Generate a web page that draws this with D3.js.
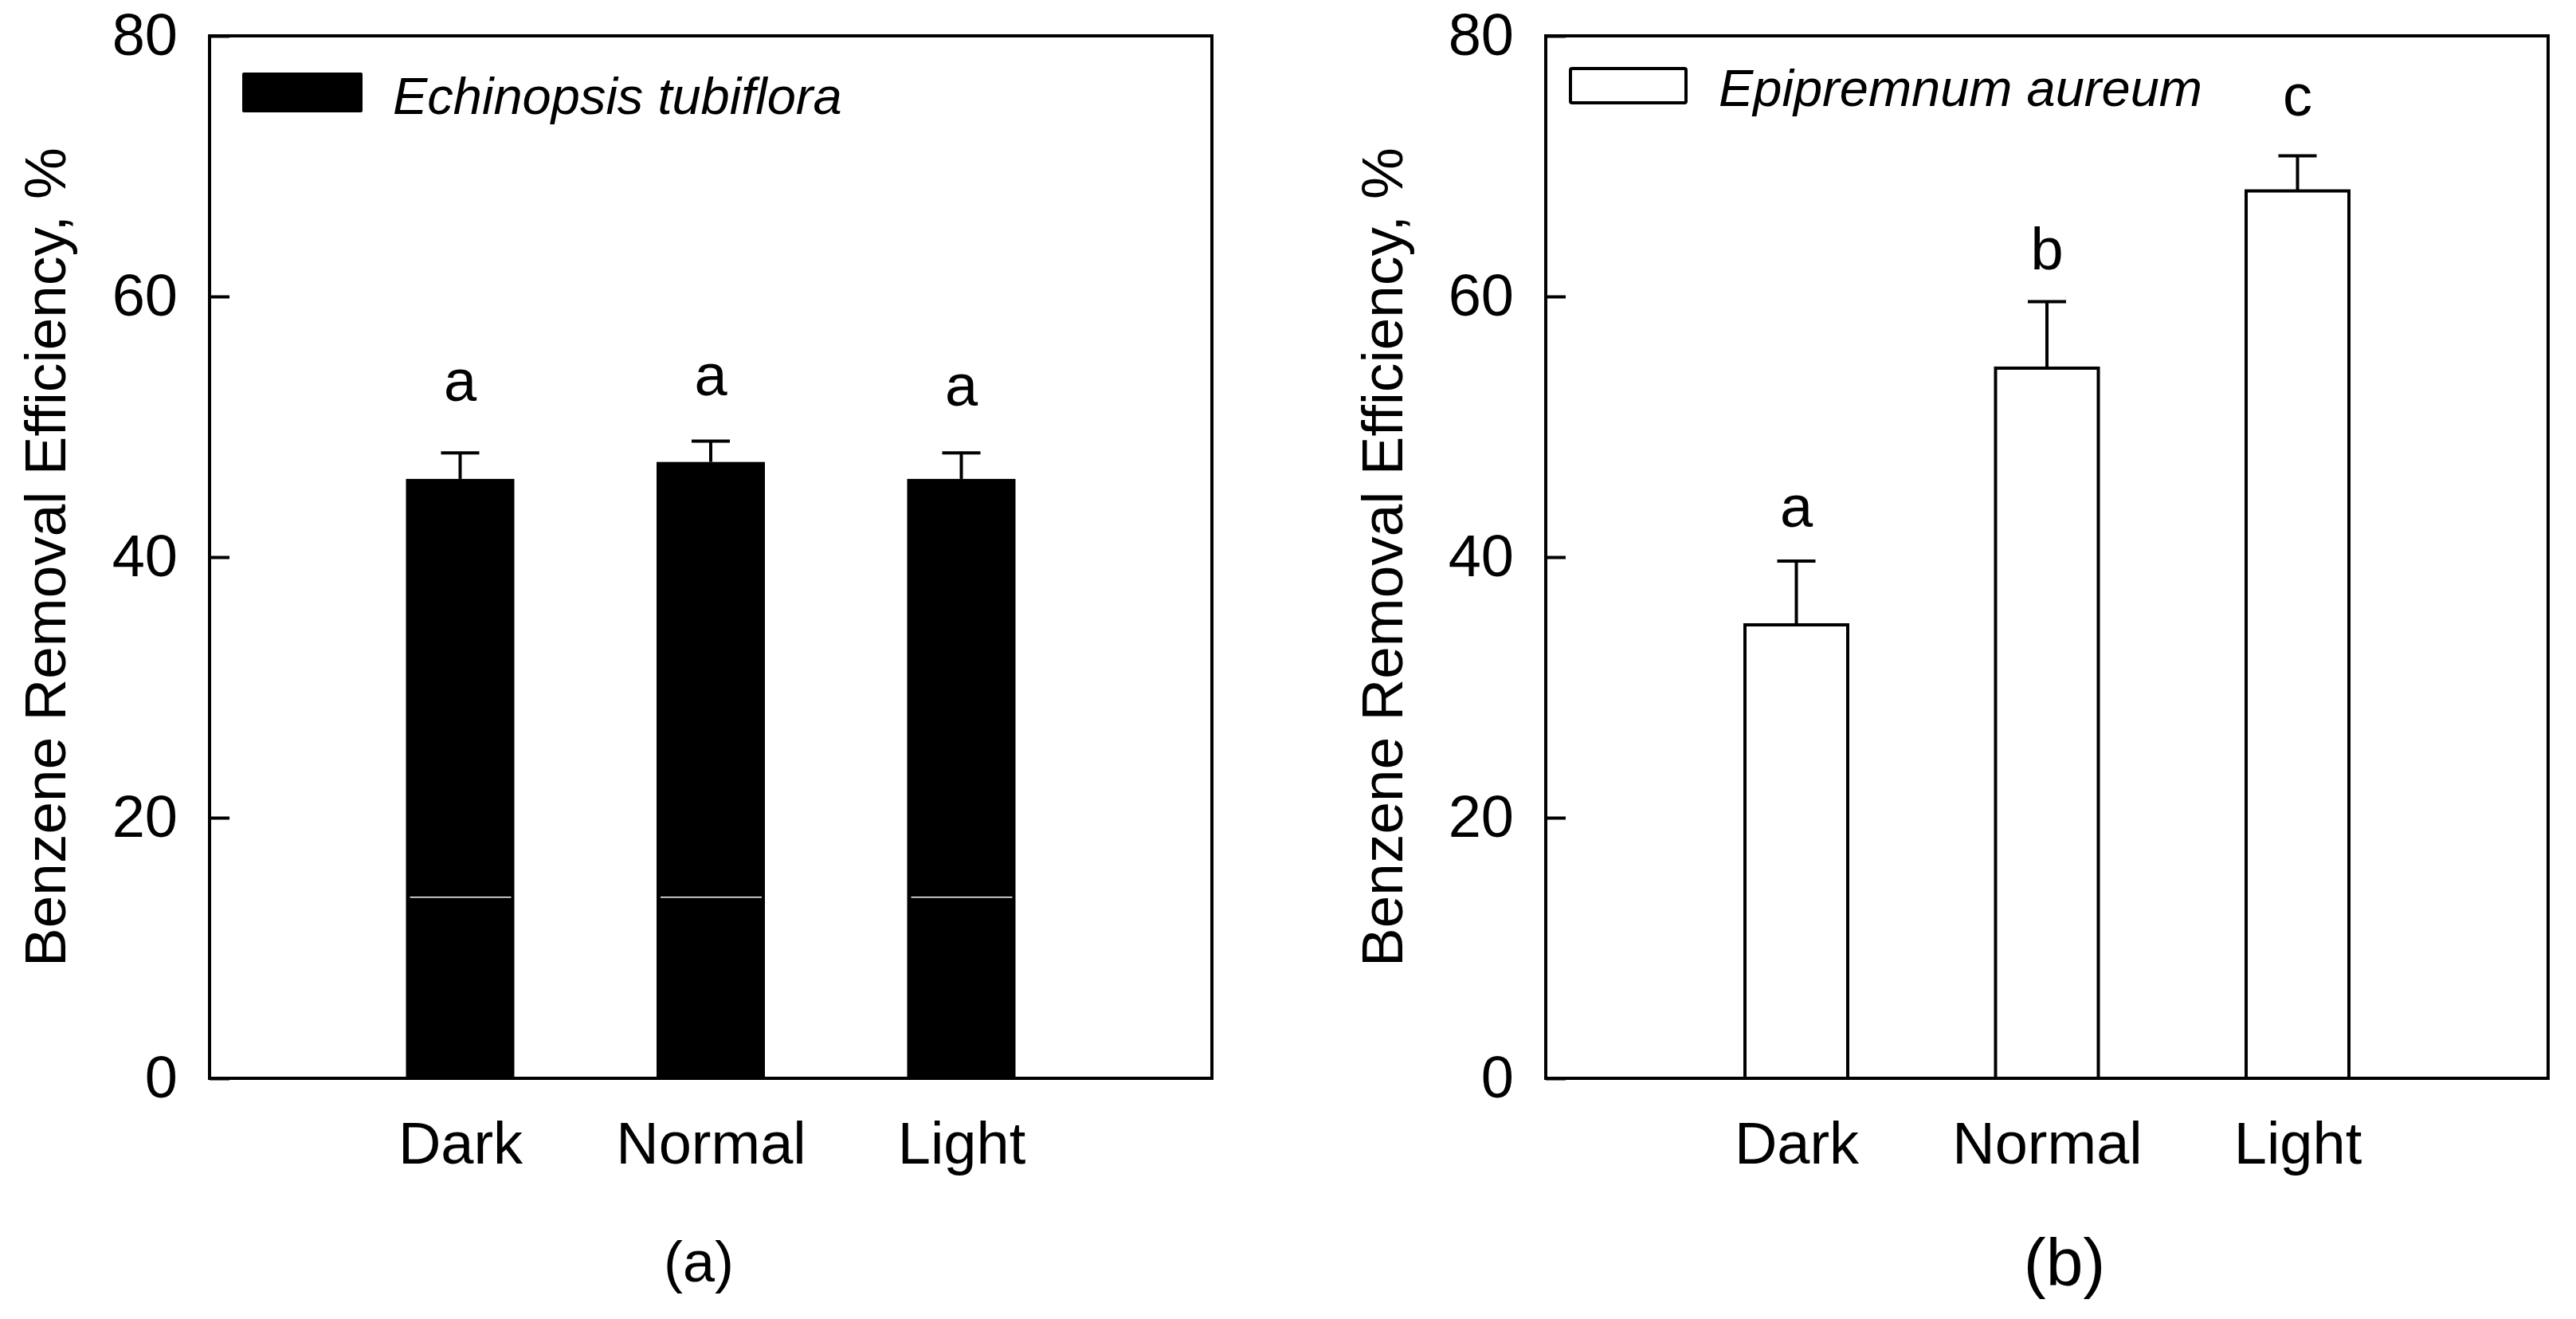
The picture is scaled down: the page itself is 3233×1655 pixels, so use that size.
<!DOCTYPE html>
<html>
<head>
<meta charset="utf-8">
<script src="https://cdn.jsdelivr.net/npm/d3@7"></script>
<style>
  body { margin: 0; background: #fff; }
  text { font-family: "Liberation Sans", Arial, sans-serif; fill: #000; }
</style>
</head>
<body>
<svg id="fig" width="3233" height="1655"></svg>
<script>
// data
const categories = ["Dark", "Normal", "Light"];
const yTicks = [0, 20, 40, 60, 80];

const echinopsisMean = [46.0, 47.3, 46.0];
const echinopsisErr = [2.0, 1.6, 2.0];
const echinopsisLetters = ["a", "a", "a"];
const echinopsisLetterY = [52.0, 52.4, 51.6];

const epipremnumMean = [34.8, 54.5, 68.1];
const epipremnumErr = [4.9, 5.1, 2.7];
const epipremnumLetters = ["a", "b", "c"];
const epipremnumLetterY = [42.3, 62.1, 73.9];

const svg = d3.select("#fig");
const W = 1258, H = 1308;

function drawPanel(opt) {
  const g = svg.append("g").attr("transform", `translate(${opt.left},45)`);

  const x = d3.scalePoint().domain(categories).range([0, W]).padding(1);
  const y = d3.scaleLinear().domain([0, 80]).range([H, 0]);

  const rows = categories.map((c, i) => ({
    cat: c, mean: opt.mean[i], err: opt.err[i], letter: opt.letters[i], ly: opt.letterY[i]
  }));

  // bars
  g.selectAll("rect.bar")
    .data(rows)
    .enter()
    .append("rect")
    .attr("class", "bar")
    .attr("x", d => x(d.cat) - opt.barW / 2)
    .attr("y", d => y(d.mean))
    .attr("width", opt.barW)
    .attr("height", d => y(0) - y(d.mean))
    .attr("fill", opt.fill)
    .attr("stroke", opt.filled ? "none" : "#000")
    .attr("stroke-width", 4);

  // the thin white streak visible inside the black bars
  if (opt.filled) {
    g.selectAll("line.streak")
      .data(rows)
      .enter()
      .append("line")
      .attr("x1", d => x(d.cat) - opt.barW / 2 + 5)
      .attr("x2", d => x(d.cat) + opt.barW / 2 - 4)
      .attr("y1", y(13.9))
      .attr("y2", y(13.9))
      .attr("stroke", "#fff")
      .attr("stroke-width", 1.5);
  }

  // error bars (upper only)
  const eb = g.selectAll("g.err").data(rows).enter().append("g");
  eb.append("line")
    .attr("x1", d => x(d.cat)).attr("x2", d => x(d.cat))
    .attr("y1", d => y(d.mean)).attr("y2", d => y(d.mean + d.err))
    .attr("stroke", "#000").attr("stroke-width", 4);
  eb.append("line")
    .attr("x1", d => x(d.cat) - 24).attr("x2", d => x(d.cat) + 24)
    .attr("y1", d => y(d.mean + d.err)).attr("y2", d => y(d.mean + d.err))
    .attr("stroke", "#000").attr("stroke-width", 4);

  // significance letters
  g.selectAll("text.sig")
    .data(rows)
    .enter()
    .append("text")
    .attr("x", d => x(d.cat))
    .attr("y", d => y(d.ly))
    .attr("text-anchor", "middle")
    .attr("font-size", 74)
    .text(d => d.letter);

  // axes
  const ya = g.append("g")
    .call(d3.axisLeft(y).tickValues(yTicks).tickSize(-25).tickPadding(40));
  ya.select(".domain").remove();
  ya.selectAll("line").attr("stroke", "#000").attr("stroke-width", 4);
  ya.selectAll("text").attr("font-size", 74).attr("font-family", "Liberation Sans, Arial, sans-serif");

  const xa = g.append("g")
    .attr("transform", `translate(0,${H})`)
    .call(d3.axisBottom(x).tickSize(0).tickPadding(54));
  xa.select(".domain").remove();
  xa.selectAll("text").attr("font-size", 74).attr("font-family", "Liberation Sans, Arial, sans-serif");

  // frame
  g.append("rect")
    .attr("width", W).attr("height", H)
    .attr("fill", "none").attr("stroke", "#000").attr("stroke-width", 4);

  // legend
  g.append("rect")
    .attr("x", opt.legend.x).attr("y", opt.legend.y)
    .attr("width", opt.legend.w).attr("height", opt.legend.h)
    .attr("rx", 2)
    .attr("fill", opt.fill)
    .attr("stroke", opt.filled ? "none" : "#000")
    .attr("stroke-width", 4);
  g.append("text")
    .attr("x", opt.legend.tx).attr("y", opt.legend.ty)
    .attr("font-size", 65)
    .attr("font-style", "italic")
    .text(opt.name);

  // y label
  svg.append("text")
    .attr("transform", `translate(${opt.ylabX},${45 + H / 2}) rotate(-90)`)
    .attr("text-anchor", "middle")
    .attr("font-size", 73)
    .text("Benzene Removal Efficiency, %");

  // panel tag
  svg.append("text")
    .attr("x", opt.tag.x).attr("y", opt.tag.y)
    .attr("text-anchor", "middle")
    .attr("font-size", opt.tag.size)
    .text(opt.tag.text);
}

drawPanel({
  left: 263, name: "Echinopsis tubiflora",
  mean: echinopsisMean, err: echinopsisErr,
  letters: echinopsisLetters, letterY: echinopsisLetterY,
  fill: "#000", filled: true, barW: 136,
  legend: { x: 41, y: 46, w: 151, h: 50, tx: 230, ty: 98 },
  ylabX: 82,
  tag: { text: "(a)", x: 877, y: 1608, size: 72 }
});

drawPanel({
  left: 1940, name: "Epipremnum aureum",
  mean: epipremnumMean, err: epipremnumErr,
  letters: epipremnumLetters, letterY: epipremnumLetterY,
  fill: "#fff", filled: false, barW: 129,
  legend: { x: 31, y: 41, w: 145, h: 43, tx: 217, ty: 88 },
  ylabX: 1760,
  tag: { text: "(b)", x: 2591, y: 1613, size: 84 }
});
</script>
</body>
</html>
